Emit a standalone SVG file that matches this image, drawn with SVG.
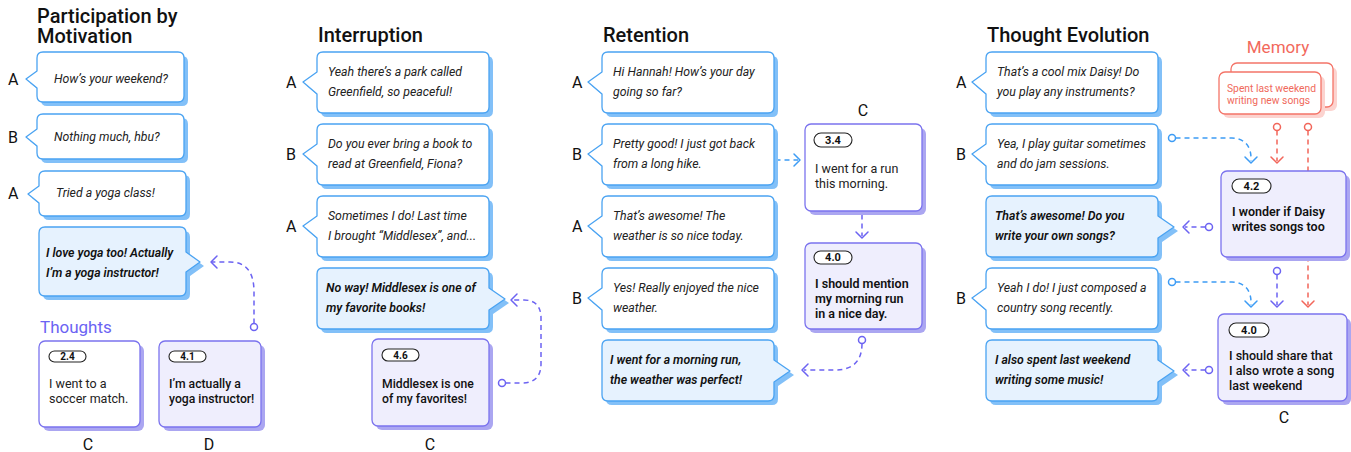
<svg xmlns="http://www.w3.org/2000/svg" xmlns:xlink="http://www.w3.org/1999/xlink" width="1351" height="452" viewBox="0 0 1351 452">
<style>
text{font-family:Roboto,"Liberation Sans",sans-serif}
.title{font-size:20px;font-weight:500;fill:#111}
.lbl{font-size:16px;fill:#111}
.bt{font-size:12.3px;font-style:italic;fill:#222}
.bb{font-size:12.3px;font-style:italic;font-weight:600;fill:#111}
.bw{fill:#fff;stroke:#4aa3f2;stroke-width:1.3;stroke-linejoin:round}
.bf{fill:#e6f2fe;stroke:#4aa3f2;stroke-width:1.3;stroke-linejoin:round}
.bs{fill:#82c0f8}
.tw{fill:#fff;stroke:#7b73ee;stroke-width:1.3}
.tl{fill:#efeefd;stroke:#7b73ee;stroke-width:1.3}
.ts{fill:#aba6f1}
.badge{fill:#fff;stroke:#222;stroke-width:1.1}
.bdt{font-size:10px;font-weight:700;text-anchor:middle;fill:#111}
.tt{font-size:12.5px;fill:#222}
.tb{font-size:12.5px;font-weight:500;fill:#111}
.tbb{font-size:12.5px;font-weight:600;fill:#111}
.mem{fill:#fff;stroke:#f47468;stroke-width:1.3}
.ms{fill:#fcd3cf}
.mt{font-size:10.3px;fill:#f0695b}
.c{fill:none;stroke-width:1.5;stroke-dasharray:5 4}
.a{fill:none;stroke-width:1.5;stroke-linecap:round;stroke-linejoin:round}
.dot{fill:#fff;stroke-width:1.5}
.blue{stroke:#3d9cf5}
.pur{stroke:#6c63f2}
.red{stroke:#f2665a}
</style>
<defs>
<path id="bl" d="M6,0 H166 Q172,0 172,6 V55 Q172,61 166,61 H6 Q0,61 0,55 V42 L-14,30 L0,20 V6 Q0,0 6,0 Z"/>
<path id="br" d="M6,0 H166 Q172,0 172,6 V20 L188,31 L172,42 V55 Q172,61 166,61 H6 Q0,61 0,55 V6 Q0,0 6,0 Z"/>
<path id="p1a" d="M6,0 H141 Q147,0 147,6 V44 Q147,50 141,50 H6 Q0,50 0,44 V36 L-11,27 L0,19 V6 Q0,0 6,0 Z"/>
<path id="p1b" d="M6,0 H141 Q147,0 147,6 V39 Q147,45 141,45 H6 Q0,45 0,39 V32 L-11,23 L0,15 V6 Q0,0 6,0 Z"/>
<path id="p1r" d="M6,0 H141 Q147,0 147,6 V25 L161,35 L147,45 V63 Q147,69 141,69 H6 Q0,69 0,63 V6 Q0,0 6,0 Z"/>
</defs>

<!-- titles and labels -->
<g id="titles">
<text class="title" x="37" y="23">Participation by</text>
<text class="title" x="37" y="43">Motivation</text>
<text class="title" x="318" y="42">Interruption</text>
<text class="title" x="603" y="42">Retention</text>
<text class="title" x="987" y="42">Thought Evolution</text>
<text x="40" y="333" style="font-size:17px;fill:#6b63f3">Thoughts</text>
<text x="1278" y="53" text-anchor="middle" style="font-size:17px;fill:#f2695c">Memory</text>
</g>
<g id="speakers" class="lbl">
<text class="lbl" x="8" y="85">A</text>
<text class="lbl" x="8" y="143">B</text>
<text class="lbl" x="8" y="199">A</text>
<text class="lbl" x="88" y="450" text-anchor="middle">C</text>
<text class="lbl" x="209" y="450" text-anchor="middle">D</text>
<text class="lbl" x="286" y="88">A</text>
<text class="lbl" x="286" y="160">B</text>
<text class="lbl" x="286" y="232">A</text>
<text class="lbl" x="430" y="450" text-anchor="middle">C</text>
<text class="lbl" x="572" y="88">A</text>
<text class="lbl" x="572" y="160">B</text>
<text class="lbl" x="572" y="232">A</text>
<text class="lbl" x="572" y="304">B</text>
<text class="lbl" x="863" y="116" text-anchor="middle">C</text>
<text class="lbl" x="956" y="88">A</text>
<text class="lbl" x="956" y="160">B</text>
<text class="lbl" x="956" y="304">B</text>
<text class="lbl" x="1284" y="423" text-anchor="middle">C</text>
</g>

<!-- connectors -->
<g id="connectors">
<path class="c pur" d="M254,323.5 V292 C254,272 246,262 230,262 H212"/>
<polyline class="a pur" points="217,256 211,262 217,268"/>
<circle class="dot pur" cx="254" cy="327" r="3.5"/>

<path class="c pur" d="M505.5,383 H522 C535,383 541,376 541,364 V318 C541,306 535,300 524,300 H513"/>
<polyline class="a pur" points="517,294 511,300 517,306"/>
<circle class="dot pur" cx="502" cy="383" r="3.5"/>

<path class="c blue" d="M766.5,160 H798"/>
<polyline class="a blue" points="794,154 800,160 794,166"/>
<circle class="dot blue" cx="763" cy="160" r="3.5"/>

<path class="c pur" d="M862,205.5 V236"/>
<polyline class="a pur" points="856,232 862,238 868,232"/>
<circle class="dot pur" cx="862" cy="202" r="3.5"/>

<path class="c pur" d="M862,343.5 C862,362 852,370 835,370 H804"/>
<polyline class="a pur" points="808,364 802,370 808,376"/>
<circle class="dot pur" cx="862" cy="340" r="3.5"/>

<path class="c blue" d="M1175.5,138 H1232 C1244,138 1251,146 1251,158 V161"/>
<polyline class="a blue" points="1245,157 1251,163 1257,157"/>
<circle class="dot blue" cx="1172" cy="138" r="3.5"/>

<path class="c red" d="M1277,130.5 V161"/>
<polyline class="a red" points="1271,157 1277,163 1283,157"/>
<circle class="dot red" cx="1277" cy="127" r="3.5"/>

<path class="c red" d="M1308,130.5 V305"/>
<polyline class="a red" points="1302,301 1308,307 1314,301"/>
<circle class="dot red" cx="1308" cy="127" r="3.5"/>

<path class="c pur" d="M1205.5,227 H1185"/>
<polyline class="a pur" points="1189,221 1183,227 1189,233"/>
<circle class="dot pur" cx="1209" cy="227" r="3.5"/>

<path class="c pur" d="M1277,274.5 V305"/>
<polyline class="a pur" points="1271,301 1277,307 1283,301"/>
<circle class="dot pur" cx="1277" cy="271" r="3.5"/>

<path class="c blue" d="M1175.5,282 H1232 C1244,282 1251,290 1251,302 V305"/>
<polyline class="a blue" points="1245,301 1251,307 1257,301"/>
<circle class="dot blue" cx="1172" cy="282" r="3.5"/>

<path class="c pur" d="M1205.5,370 H1185"/>
<polyline class="a pur" points="1189,364 1183,370 1189,376"/>
<circle class="dot pur" cx="1209" cy="370" r="3.5"/>
</g>

<!-- Panel 1 -->
<g id="p1-a1" transform="translate(37,52)"><use href="#p1a" class="bs" x="4" y="4"/><use href="#p1a" class="bw"/><text class="bt" x="17" y="31">How’s your weekend?</text></g>
<g id="p1-b1" transform="translate(37,114)"><use href="#p1b" class="bs" x="4" y="4"/><use href="#p1b" class="bw"/><text class="bt" x="17" y="27">Nothing much, hbu?</text></g>
<g id="p1-a2" transform="translate(39,171)"><use href="#p1b" class="bs" x="4" y="4"/><use href="#p1b" class="bw"/><text class="bt" x="17" y="26">Tried a yoga class!</text></g>
<g id="p1-d" transform="translate(39,227)"><use href="#p1r" class="bs" x="4" y="4"/><use href="#p1r" class="bf"/><text class="bb" x="7" y="30">I love yoga too! Actually</text><text class="bb" x="7" y="50">I’m a yoga instructor!</text></g>
<g id="p1-tc"><rect class="ts" x="43" y="345" width="101" height="86" rx="6"/><rect class="tw" x="39" y="341" width="101" height="86" rx="6"/><rect class="badge" x="49" y="351" width="37" height="11" rx="5.5"/><text class="bdt" x="67.5" y="360">2.4</text><text class="tt" x="49" y="388">I went to a</text><text class="tt" x="49" y="403">soccer match.</text></g>
<g id="p1-td"><rect class="ts" x="163" y="345" width="102" height="86" rx="6"/><rect class="tl" x="159" y="341" width="102" height="86" rx="6"/><rect class="badge" x="169" y="351" width="37" height="11" rx="5.5"/><text class="bdt" x="187.5" y="360">4.1</text><text class="tb" x="169" y="388" style="font-size:12.2px">I’m actually a</text><text class="tb" x="169" y="403" style="font-size:12.2px">yoga instructor!</text></g>

<!-- Panel 2 -->
<g id="p2-a1" transform="translate(317,52)"><use href="#bl" class="bs" x="4" y="4"/><use href="#bl" class="bw"/><text class="bt" x="11" y="24">Yeah there’s a park called</text><text class="bt" x="11" y="44">Greenfield, so peaceful!</text></g>
<g id="p2-b1" transform="translate(317,124)"><use href="#bl" class="bs" x="4" y="4"/><use href="#bl" class="bw"/><text class="bt" x="11" y="24">Do you ever bring a book to</text><text class="bt" x="11" y="44">read at Greenfield, Fiona?</text></g>
<g id="p2-a2" transform="translate(317,196)"><use href="#bl" class="bs" x="4" y="4"/><use href="#bl" class="bw"/><text class="bt" x="11" y="24">Sometimes I do! Last time</text><text class="bt" x="11" y="44">I brought “Middlesex”, and...</text></g>
<g id="p2-c" transform="translate(317,268)"><use href="#br" class="bs" x="4" y="4"/><use href="#br" class="bf"/><text class="bb" x="9" y="24">No way! Middlesex is one of</text><text class="bb" x="9" y="44">my favorite books!</text></g>
<g id="p2-tc"><rect class="ts" x="376" y="343" width="117" height="87" rx="6"/><rect class="tl" x="372" y="339" width="117" height="87" rx="6"/><rect class="badge" x="382" y="349" width="37" height="12" rx="6"/><text class="bdt" x="400.5" y="358.5">4.6</text><text class="tb" x="382" y="388" style="font-size:12.2px">Middlesex is one</text><text class="tb" x="382" y="403" style="font-size:12.2px">of my favorites!</text></g>

<!-- Panel 3 -->
<g id="p3-a1" transform="translate(602,52)"><use href="#bl" class="bs" x="4" y="4"/><use href="#bl" class="bw"/><text class="bt" x="11" y="24">Hi Hannah! How’s your day</text><text class="bt" x="11" y="44">going so far?</text></g>
<g id="p3-b1" transform="translate(602,124)"><use href="#bl" class="bs" x="4" y="4"/><use href="#bl" class="bw"/><text class="bt" x="11" y="24">Pretty good! I just got back</text><text class="bt" x="11" y="44">from a long hike.</text></g>
<g id="p3-a2" transform="translate(602,196)"><use href="#bl" class="bs" x="4" y="4"/><use href="#bl" class="bw"/><text class="bt" x="11" y="24">That’s awesome! The</text><text class="bt" x="11" y="44">weather is so nice today.</text></g>
<g id="p3-b2" transform="translate(602,268)"><use href="#bl" class="bs" x="4" y="4"/><use href="#bl" class="bw"/><text class="bt" x="11" y="24">Yes! Really enjoyed the nice</text><text class="bt" x="11" y="44">weather.</text></g>
<g id="p3-c" transform="translate(602,340)"><use href="#br" class="bs" x="4" y="4"/><use href="#br" class="bf"/><text class="bb" x="8" y="24">I went for a morning run,</text><text class="bb" x="8" y="44">the weather was perfect!</text></g>
<g id="p3-t1"><rect class="ts" x="809" y="128" width="117" height="87" rx="6"/><rect class="tw" x="805" y="124" width="117" height="87" rx="6"/><rect class="badge" x="814" y="133" width="38" height="14" rx="7"/><text class="bdt" x="833" y="143.5" style="font-size:11px">3.4</text><text class="tt" x="815" y="173">I went for a run</text><text class="tt" x="815" y="188">this morning.</text></g>
<g id="p3-t2"><rect class="ts" x="809" y="247" width="117" height="86" rx="6"/><rect class="tl" x="805" y="243" width="117" height="86" rx="6"/><rect class="badge" x="814" y="251" width="38" height="13" rx="6.5"/><text class="bdt" x="833" y="261" style="font-size:11px">4.0</text><text class="tbb" x="815" y="288">I should mention</text><text class="tbb" x="815" y="303">my morning run</text><text class="tbb" x="815" y="318">in a nice day.</text></g>

<!-- Panel 4 -->
<g id="p4-a1" transform="translate(986,52)"><use href="#bl" class="bs" x="4" y="4"/><use href="#bl" class="bw"/><text class="bt" x="11" y="24">That’s a cool mix Daisy! Do</text><text class="bt" x="11" y="44">you play any instruments?</text></g>
<g id="p4-b1" transform="translate(986,124)"><use href="#bl" class="bs" x="4" y="4"/><use href="#bl" class="bw"/><text class="bt" x="11" y="24">Yea, I play guitar sometimes</text><text class="bt" x="11" y="44">and do jam sessions.</text></g>
<g id="p4-c1" transform="translate(986,196)"><use href="#br" class="bs" x="4" y="4"/><use href="#br" class="bf"/><text class="bb" x="9" y="24">That’s awesome! Do you</text><text class="bb" x="9" y="44">write your own songs?</text></g>
<g id="p4-b2" transform="translate(986,268)"><use href="#bl" class="bs" x="4" y="4"/><use href="#bl" class="bw"/><text class="bt" x="11" y="24">Yeah I do! I just composed a</text><text class="bt" x="11" y="44">country song recently.</text></g>
<g id="p4-c2" transform="translate(986,340)"><use href="#br" class="bs" x="4" y="4"/><use href="#br" class="bf"/><text class="bb" x="9" y="24">I also spent last weekend</text><text class="bb" x="9" y="44">writing some music!</text></g>
<g id="p4-memory"><rect class="ms" x="1235" y="67" width="102" height="44" rx="6"/><rect class="mem" x="1231" y="63" width="102" height="44" rx="6"/><rect class="ms" x="1223" y="76" width="102" height="42" rx="6"/><rect class="mem" x="1219" y="72" width="102" height="42" rx="6"/><text class="mt" x="1227" y="92">Spent last weekend</text><text class="mt" x="1227" y="104">writing new songs</text></g>
<g id="p4-t1"><rect class="ts" x="1225" y="175" width="125" height="86" rx="6"/><rect class="tl" x="1221" y="171" width="125" height="86" rx="6"/><rect class="badge" x="1232" y="179" width="39" height="14" rx="7"/><text class="bdt" x="1251.5" y="189.5" style="font-size:11px">4.2</text><text class="tbb" x="1232" y="216">I wonder if Daisy</text><text class="tbb" x="1232" y="231">writes songs too</text></g>
<g id="p4-t2"><rect class="ts" x="1222" y="318" width="129" height="87" rx="6"/><rect class="tl" x="1218" y="314" width="129" height="87" rx="6"/><rect class="badge" x="1229" y="323" width="40" height="14" rx="7"/><text class="bdt" x="1249" y="333.5" style="font-size:11px">4.0</text><text class="tb" x="1229" y="360">I should share that</text><text class="tb" x="1229" y="375">I also wrote a song</text><text class="tb" x="1229" y="390">last weekend</text></g>
</svg>
